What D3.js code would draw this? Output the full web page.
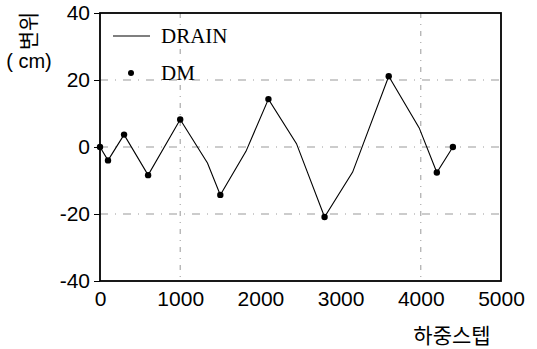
<!DOCTYPE html>
<html>
<head>
<meta charset="utf-8">
<script src="https://cdn.jsdelivr.net/npm/d3@7"></script>
<style>
  body { margin: 0; background: #fff; }
</style>
</head>
<body>
<script>
// DRAIN curve (load step, displacement cm)
var drainSteps = [0, 100, 300, 600, 1000, 1340, 1500, 1820, 2100, 2450, 2800, 3150, 3600, 3980, 4200, 4400];
var drainValues = [0, -4, 3.7, -8.4, 8.2, -4.8, -14.3, -1.3, 14.3, 1, -20.9, -7.5, 21.1, 5.7, -7.6, 0];
// DM points
var dmSteps = [0, 100, 300, 600, 1000, 1500, 2100, 2800, 3600, 4200, 4400];
var dmValues = [0, -4, 3.7, -8.4, 8.2, -14.3, 14.3, -20.9, 21.1, -7.6, 0];
var xTicks = [0, 1000, 2000, 3000, 4000, 5000];
var yTicks = [-40, -20, 0, 20, 40];

var margin = {top: 13, right: 36, bottom: 68, left: 100};
var width = 537, height = 349;
var graphWidth = width - margin.left - margin.right;
var graphHeight = height - margin.top - margin.bottom;

var svg = d3.select('body').append('svg')
    .attr("width", width)
    .attr("height", height);

var graph = svg.append('g')
    .attr("transform", "translate(" + margin.left + "," + margin.top + ")");

var x = d3.scaleLinear().domain([0, 5000]).range([0, graphWidth]);
var y = d3.scaleLinear().domain([-40, 40]).range([graphHeight, 0]);

// grid
graph.selectAll(".vgrid")
    .data([1000, 4000])
    .enter().append("line")
    .attr("x1", d => x(d)).attr("x2", d => x(d))
    .attr("y1", 0).attr("y2", graphHeight)
    .attr("stroke", "#999")
    .attr("stroke-width", 1)
    .attr("stroke-dasharray", "5,6,1,6");

graph.selectAll(".hgrid")
    .data([-20, 0, 20])
    .enter().append("line")
    .attr("x1", 0).attr("x2", graphWidth)
    .attr("y1", d => y(d)).attr("y2", d => y(d))
    .attr("stroke", "#999")
    .attr("stroke-width", 1)
    .attr("stroke-dasharray", "8,7,1,7");

// frame
graph.append("rect")
    .attr("x", 0).attr("y", 0)
    .attr("width", graphWidth).attr("height", graphHeight)
    .attr("fill", "none")
    .attr("stroke", "#000")
    .attr("stroke-width", 1.8);

// y axis
var yAxis = d3.axisLeft(y).tickValues(yTicks).tickSize(6).tickPadding(4)
    .tickFormat(d => d < 0 ? "-" + Math.abs(d) : d);
var yAxisGroup = graph.append('g').call(yAxis);
yAxisGroup.select(".domain").remove();
yAxisGroup.selectAll("text")
    .attr("font-family", "'Liberation Sans', sans-serif")
    .attr("font-size", "21px")
    .attr("fill", "#000");

// x axis
var xAxis = d3.axisBottom(x).tickValues(xTicks).tickSize(0).tickPadding(10)
    .tickFormat(d3.format("d"));
var xAxisGroup = graph.append('g')
    .attr("transform", "translate(0," + graphHeight + ")")
    .call(xAxis);
xAxisGroup.select(".domain").remove();
xAxisGroup.selectAll("text")
    .attr("font-family", "'Liberation Sans', sans-serif")
    .attr("font-size", "21px")
    .attr("fill", "#000");

// DRAIN line
var drainData = drainSteps.map((s, i) => [s, drainValues[i]]);
var line = d3.line().x(d => x(d[0])).y(d => y(d[1]));
graph.append("path")
    .datum(drainData)
    .attr("d", line)
    .attr("fill", "none")
    .attr("stroke", "#000")
    .attr("stroke-width", 1.1);

// DM points
var dmData = dmSteps.map((s, i) => [s, dmValues[i]]);
graph.selectAll("circle.dm")
    .data(dmData)
    .enter().append("circle")
    .attr("class", "dm")
    .attr("cx", d => x(d[0]))
    .attr("cy", d => y(d[1]))
    .attr("r", 3.2)
    .attr("fill", "#000");

// legend
var legend = graph.append("g");
legend.append("line")
    .attr("x1", 13).attr("x2", 50)
    .attr("y1", 23).attr("y2", 23)
    .attr("stroke", "#000").attr("stroke-width", 1.2);
legend.append("text")
    .attr("x", 61).attr("y", 30)
    .attr("font-family", "'Liberation Serif', serif")
    .attr("font-size", "21px")
    .text("DRAIN");
legend.append("circle")
    .attr("cx", 31).attr("cy", 60).attr("r", 3)
    .attr("fill", "#000");
legend.append("text")
    .attr("x", 61).attr("y", 67)
    .attr("font-family", "'Liberation Serif', serif")
    .attr("font-size", "21px")
    .text("DM");

// axis titles
svg.append("text")
    .attr("transform", "translate(36,31)rotate(-90)")
    .attr("text-anchor", "middle")
    .attr("font-family", "'Noto Sans CJK KR', sans-serif")
    .attr("font-size", "21px")
    .text("변위");
svg.append("text")
    .attr("x", 29).attr("y", 68)
    .attr("text-anchor", "middle")
    .attr("font-family", "'Liberation Sans', sans-serif")
    .attr("font-size", "20px")
    .text("( cm)");
svg.append("text")
    .attr("x", 452).attr("y", 343)
    .attr("text-anchor", "middle")
    .attr("font-family", "'Noto Sans CJK KR', sans-serif")
    .attr("font-size", "21px")
    .text("하중스텝");
</script>
</body>
</html>
